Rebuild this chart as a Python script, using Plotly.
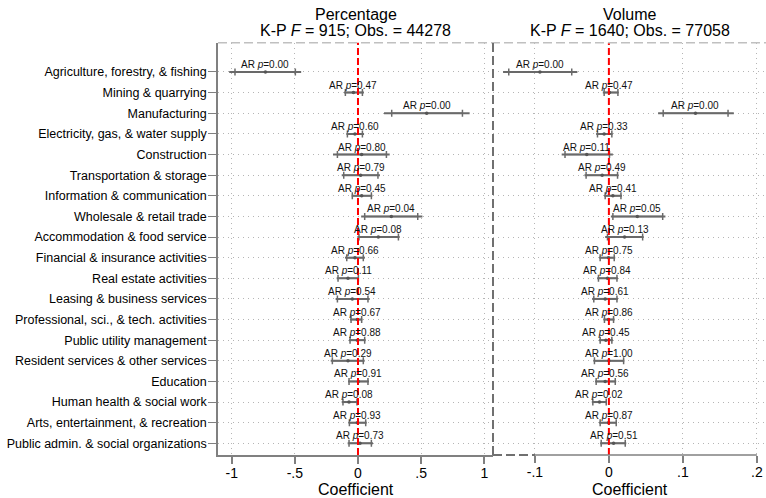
import plotly.graph_objects as go

W, H = 766, 498

categories = [
    "Agriculture, forestry, & fishing", "Mining & quarrying", "Manufacturing",
    "Electricity, gas, & water supply", "Construction", "Transportation & storage",
    "Information & communication", "Wholesale & retail trade",
    "Accommodation & food service", "Financial & insurance activities",
    "Real estate activities", "Leasing & business services",
    "Professional, sci., & tech. activities", "Public utility management",
    "Resident services & other services", "Education",
    "Human health & social work", "Arts, entertainment, & recreation",
    "Public admin. & social organizations",
]

# Percentage panel
pct_coef = [-0.733, -0.036, 0.544, -0.024, 0.029, 0.021, 0.029, 0.264, 0.161, -0.024,
            -0.079, -0.045, -0.005, -0.005, -0.079, 0.003, -0.071, -0.005, 0.016]
pct_lo90 = [-0.974, -0.100, 0.267, -0.084, -0.163, -0.113, -0.045, 0.053, 0.008, -0.089,
            -0.158, -0.163, -0.055, -0.063, -0.203, -0.071, -0.119, -0.068, -0.071]
pct_hi90 = [-0.496, 0.035, 0.827, 0.035, 0.225, 0.158, 0.106, 0.473, 0.320, 0.042,
            0.003, 0.079, 0.029, 0.053, 0.042, 0.079, -0.008, 0.061, 0.106]
pct_lo95 = [-1.020, -0.110, 0.206, -0.092, -0.198, -0.129, -0.050, 0.025, -0.005, -0.103,
            -0.169, -0.177, -0.063, -0.071, -0.216, -0.079, -0.129, -0.076, -0.082]
pct_hi95 = [-0.450, 0.047, 0.884, 0.048, 0.251, 0.174, 0.114, 0.510, 0.330, 0.055,
            0.008, 0.093, 0.035, 0.061, 0.053, 0.087, 0.000, 0.069, 0.119]
pct_p = ["0.00", "0.47", "0.00", "0.60", "0.80", "0.79", "0.45", "0.04", "0.08", "0.66",
         "0.11", "0.54", "0.67", "0.88", "0.29", "0.91", "0.08", "0.93", "0.73"]

# Volume panel
vol_coef = [-0.0932, 0.0008, 0.1170, -0.0064, -0.0299, -0.0091, 0.0054, 0.0384, 0.0212, -0.0005,
            -0.0019, -0.0050, -0.0005, -0.0041, 0.0000, -0.0050, -0.0127, -0.0005, 0.0063]
vol_lo90 = [-0.1353, -0.0064, 0.0734, -0.0154, -0.0593, -0.0308, -0.0050, 0.0054, -0.0019, -0.0118,
            -0.0141, -0.0204, -0.0060, -0.0118, -0.0195, -0.0172, -0.0217, -0.0118, -0.0104]
vol_hi90 = [-0.0502, 0.0122, 0.1610, 0.0040, 0.0008, 0.0117, 0.0163, 0.0727, 0.0456, 0.0072,
            0.0109, 0.0109, 0.0063, 0.0040, 0.0199, 0.0086, -0.0036, 0.0099, 0.0221]
vol_lo95 = [-0.1430, -0.0082, 0.0665, -0.0172, -0.0638, -0.0330, -0.0064, 0.0027, -0.0050, -0.0132,
            -0.0159, -0.0227, -0.0073, -0.0132, -0.0209, -0.0186, -0.0231, -0.0132, -0.0118]
vol_hi95 = [-0.0426, 0.0130, 0.1688, 0.0050, 0.0054, 0.0130, 0.0176, 0.0764, 0.0470, 0.0086,
            0.0122, 0.0122, 0.0077, 0.0054, 0.0208, 0.0099, -0.0027, 0.0109, 0.0235]
vol_p = ["0.00", "0.47", "0.00", "0.33", "0.11", "0.49", "0.41", "0.05", "0.13", "0.75",
         "0.84", "0.61", "0.86", "0.45", "1.00", "0.56", "0.02", "0.87", "0.51"]

panel_names = ["Percentage", "Volume"]
panel_stats = ["K-P <i>F</i> = 915; Obs. = 44278", "K-P <i>F</i> = 1640; Obs. = 77058"]
pct_ticks = [-1, -0.5, 0, 0.5, 1]
pct_ticktext = ["-1", "-.5", "0", ".5", "1"]
vol_ticks = [-0.1, 0, 0.1, 0.2]
vol_ticktext = ["-.1", "0", ".1", ".2"]

FONT = "Liberation Sans, Arial, sans-serif"
rows = list(range(1, len(categories) + 1))

# pixel geometry
L0, MID, R1 = 218, 493, 766
TOP, BOT = 42.7, 455
px = lambda v: v / W
py = lambda v: 1 - v / H

fig = go.Figure()
CI_COL = "#6a6a6a"


def add_panel(coef, lo90, hi90, lo95, hi95, pvals, xa, ya):
    xs, ys = [], []
    for r, a, b in zip(rows, lo95, hi95):
        xs += [a, b, None]
        ys += [r, r, None]
    fig.add_trace(go.Scatter(x=xs, y=ys, mode="lines", xaxis=xa, yaxis=ya,
                             line=dict(color=CI_COL, width=2), hoverinfo="skip",
                             showlegend=False))
    fig.add_trace(go.Scatter(
        x=coef, y=rows, mode="markers", xaxis=xa, yaxis=ya, showlegend=False,
        marker=dict(color="#555555", size=3.5),
        error_x=dict(type="data", symmetric=False,
                     array=[h - c for h, c in zip(hi90, coef)],
                     arrayminus=[c - l for c, l in zip(coef, lo90)],
                     color=CI_COL, thickness=1.5, width=3.5)))
    for r, c, p in zip(rows, coef, pvals):
        fig.add_annotation(x=c, y=r, xref=xa, yref=ya, showarrow=False,
                           text="AR <i>p</i>=" + p, yshift=7.5, yanchor="middle",
                           xanchor="center",
                           font=dict(size=10, color="#111111", family=FONT))


add_panel(pct_coef, pct_lo90, pct_hi90, pct_lo95, pct_hi95, pct_p, "x", "y")
add_panel(vol_coef, vol_lo90, vol_hi90, vol_lo95, vol_hi95, vol_p, "x2", "y2")

grid = dict(showgrid=True, gridcolor="#b5b5b5", gridwidth=1, griddash="1px,4px")
yrange = [19.567, -0.42]

fig.update_layout(
    width=W, height=H, margin=dict(l=0, r=0, t=0, b=0),
    paper_bgcolor="white", plot_bgcolor="white",
    font=dict(family=FONT, color="black"),
    xaxis=dict(domain=[px(L0), px(MID)], range=[-1.1085, 1.069], tickvals=pct_ticks,
               ticktext=pct_ticktext, ticks="outside", ticklen=7, tickwidth=1.5,
               tickcolor="#808080", zeroline=False, showline=True, linecolor="#808080",
               linewidth=1.5, tickfont=dict(size=14), ticklabelstandoff=-3,
               anchor="y", **grid),
    yaxis=dict(domain=[py(BOT), py(TOP)], range=yrange, tickvals=rows, ticktext=categories,
               ticks="outside", ticklen=8, tickwidth=1.2, tickcolor="#808080",
               zeroline=False, showline=True, linecolor="#808080", linewidth=1.5,
               tickfont=dict(size=12.5), ticklabelstandoff=-1, anchor="x", **grid),
    xaxis2=dict(domain=[px(MID), 1.0], range=[-0.1566, 0.2123], tickvals=vol_ticks,
                ticktext=vol_ticktext, ticks="outside", ticklen=7, tickwidth=1.5,
                tickcolor="#808080", zeroline=False, showline=False,
                tickfont=dict(size=14), ticklabelstandoff=-3, anchor="y2", **grid),
    yaxis2=dict(domain=[py(BOT), py(TOP)], range=yrange, tickvals=rows, showticklabels=False,
                ticks="", zeroline=False, showline=False, anchor="x2", **grid),
)

# red zero lines
for xa in ("x", "x2"):
    fig.add_shape(type="line", xref=xa, yref="paper", x0=0, x1=0, y0=py(BOT), y1=py(TOP),
                  line=dict(color="#ff0000", width=2, dash="7px,3px"))

# dashed frames
fig.add_shape(type="line", xref="paper", yref="paper", x0=px(L0), x1=1, y0=py(TOP), y1=py(TOP),
              line=dict(color="#c0c0c0", width=1.5, dash="9px,4px"))
fig.add_shape(type="line", xref="paper", yref="paper", x0=px(MID), x1=px(MID), y0=py(BOT),
              y1=py(TOP), line=dict(color="#707070", width=2, dash="9px,4px"))
fig.add_shape(type="line", xref="paper", yref="paper", x0=px(MID), x1=px(535), y0=py(BOT),
              y1=py(BOT), line=dict(color="#707070", width=2, dash="9px,4px"))
fig.add_shape(type="line", xref="x2", yref="paper", x0=-0.1, x1=0.2, y0=py(BOT), y1=py(BOT),
              line=dict(color="#808080", width=1.5))

# titles
centers = [px((L0 + MID) / 2), px((MID + R1) / 2)]
for cx, name, stats in zip(centers, panel_names, panel_stats):
    fig.add_annotation(x=cx, y=py(14), xref="paper", yref="paper", showarrow=False,
                       text=name, yanchor="middle", xanchor="center",
                       font=dict(size=16, color="black", family=FONT))
    fig.add_annotation(x=cx, y=py(30.5), xref="paper", yref="paper", showarrow=False,
                       text=stats, yanchor="middle", xanchor="center",
                       font=dict(size=16, color="black", family=FONT))
    fig.add_annotation(x=cx, y=py(489), xref="paper", yref="paper", showarrow=False,
                       text="Coefficient", yanchor="middle", xanchor="center",
                       font=dict(size=16, color="black", family=FONT))

fig.write_html("out.html")
